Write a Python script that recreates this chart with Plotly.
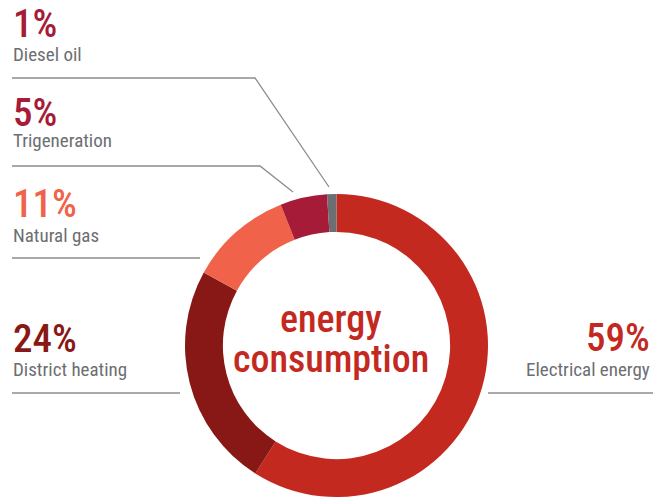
import plotly.graph_objects as go

W, H = 653, 498

# Energy mix, clockwise from 12 o'clock
categories = ["Electrical energy", "District heating", "Natural gas", "Trigeneration", "Diesel oil"]
shares = [59, 24, 11, 5, 1]
colors = ["#C4291F", "#871815", "#F0634A", "#A51B38", "#6D6E71"]
pct_colors = ["#C4291F", "#871815", "#F0634A", "#A51B38", "#A51B38"]

FONT = "Roboto Condensed, Liberation Sans Narrow, sans-serif"
GRAY = "#6D6E71"
LINE = "#8C8C8C"


def px(x):
    return x / W


def py(y):
    return 1 - y / H


# donut geometry (pixels)
cx, cy, r = 336.5, 345.5, 151.5

fig = go.Figure(
    go.Pie(
        labels=categories,
        values=shares,
        sort=False,
        direction="clockwise",
        rotation=0,
        hole=0.75,
        marker=dict(colors=colors, line=dict(width=0)),
        textinfo="none",
        hoverinfo="label+percent",
        domain=dict(x=[px(cx - r), px(cx + r)], y=[py(cy + r), py(cy - r)]),
        showlegend=False,
    )
)

# label blocks: (index, x, anchor, pct centre y, name centre y)
blocks = [
    (4, 11, "left", 24, 54),
    (3, 11, "left", 113, 141),
    (2, 11, "left", 204, 235),
    (1, 11, "left", 339, 369),
    (0, 652, "right", 338, 369),
]

annotations = []
for i, x, anchor, y_pct, y_name in blocks:
    annotations.append(dict(
        text=f"{shares[i]}%", x=px(x), y=py(y_pct), xref="paper", yref="paper",
        xanchor=anchor, yanchor="middle", showarrow=False,
        font=dict(family=FONT, size=39, weight=500, color=pct_colors[i]),
    ))
    annotations.append(dict(
        text=categories[i], x=px(x), y=py(y_name), xref="paper", yref="paper",
        xanchor=anchor, yanchor="middle", showarrow=False,
        font=dict(family=FONT, size=19, color=GRAY),
    ))

# centre title
for word, yc in (("energy", 319), ("consumption", 359)):
    annotations.append(dict(
        text=word, x=px(331), y=py(yc), xref="paper", yref="paper",
        xanchor="center", yanchor="middle", showarrow=False,
        font=dict(family=FONT, size=38, weight=500, color="#C4291F"),
    ))

# leader lines
leaders = [
    [(12, 78), (255, 78), (329, 187)],
    [(12, 166), (260, 166), (293, 192)],
    [(12, 258), (200, 258)],
    [(12, 393), (180, 393)],
    [(488, 393), (653, 393)],
]
shapes = []
for pts in leaders:
    path = "M " + " L ".join(f"{px(x):.5f},{py(y):.5f}" for x, y in pts)
    shapes.append(dict(type="path", path=path, xref="paper", yref="paper",
                       line=dict(color=LINE, width=1.3)))

fig.update_layout(
    width=W, height=H,
    margin=dict(l=0, r=0, t=0, b=0),
    paper_bgcolor="white", plot_bgcolor="white",
    annotations=annotations, shapes=shapes,
)

fig.write_html("out.html")
